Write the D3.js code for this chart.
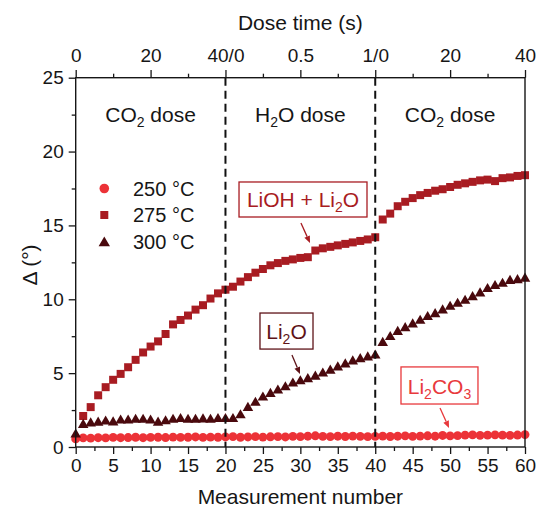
<!DOCTYPE html>
<html><head><meta charset="utf-8">
<script src="https://cdn.jsdelivr.net/npm/d3@7/dist/d3.min.js"></script>
<style>
html,body{margin:0;padding:0;background:#fff;}
svg{display:block;font-family:"Liberation Sans",Arial,sans-serif;}
</style></head>
<body>
<script>
// ---- data ----
const measurements = d3.range(0, 61);
const series250 = [0.55,0.62,0.6,0.63,0.62,0.65,0.63,0.64,0.66,0.63,0.65,0.66,0.64,0.67,0.65,0.66,0.68,0.65,0.67,0.66,0.68,0.7,0.66,0.68,0.7,0.67,0.69,0.7,0.68,0.72,0.7,0.73,0.76,0.72,0.7,0.73,0.71,0.74,0.72,0.7,0.72,0.74,0.71,0.73,0.75,0.72,0.74,0.76,0.73,0.78,0.75,0.77,0.8,0.82,0.79,0.8,0.82,0.8,0.79,0.81,0.84];
const series275x = d3.range(1, 61);
const series275 = [2.1,2.7,3.5,4.05,4.55,4.95,5.4,5.9,6.4,6.8,7.15,7.65,8.3,8.6,8.9,9.3,9.6,10.05,10.4,10.65,10.85,11.2,11.5,11.8,12.05,12.3,12.45,12.6,12.7,12.8,12.85,13.3,13.45,13.55,13.65,13.75,13.85,13.95,14.05,14.2,15.4,15.8,16.3,16.6,16.85,17.05,17.2,17.35,17.45,17.6,17.75,17.85,17.95,18.05,18.1,18.0,18.2,18.25,18.35,18.4];
const series300 = [0.9,1.55,1.65,1.7,1.78,1.72,1.85,1.85,1.9,1.9,1.85,1.7,1.8,1.9,1.95,1.9,1.9,1.92,1.9,1.95,1.95,1.95,2.2,2.7,3.05,3.4,3.65,3.88,4.1,4.35,4.5,4.65,4.82,5.03,5.22,5.44,5.65,5.85,6.0,6.12,6.25,7.1,7.5,7.85,8.1,8.35,8.6,8.85,9.05,9.3,9.55,9.75,9.95,10.2,10.45,10.75,10.95,11.1,11.3,11.35,11.45];
const seriesNames = ["250 °C","275 °C","300 °C"];
const bottomTicks = d3.range(0, 61, 5);
const topTickPos = [0,10,20,30,40,50,60];
const topTickLabels = ["0","20","40/0","0.5","1/0","20","40"];
const leftTicks = [0,5,10,15,20,25];
const doseBoundaries = [20, 40];
const doseLabels = [{m:10, main:"CO", sub:"2", rest:" dose"},{m:30, main:"H", sub:"2", rest:"O dose"},{m:50, main:"CO", sub:"2", rest:" dose"}];

// ---- layout ----
const W = 541, H = 514;
const M = {left:75.7, right:16, top:77.7, bottom:67};
const colors = {c250:"#ec3237", c275:"#a81c22", c300:"#4a090d"};
const ink = "#161616";

const svg = d3.select("body").append("svg").attr("width", W).attr("height", H);
const x = d3.scaleLinear().domain([0,60]).range([M.left, W-M.right]);
const y = d3.scaleLinear().domain([0,25]).range([H-M.bottom, M.top]);

// data marks
const g = svg.append("g");
g.selectAll("path.c250").data(measurements).enter().append("path")
  .attr("transform", (d,i)=>`translate(${x(d)},${y(series250[i])})`)
  .attr("d", d3.symbol().type(d3.symbolCircle).size(62)()).attr("fill", colors.c250);
g.selectAll("path.c275").data(series275x).enter().append("path")
  .attr("transform", (d,i)=>`translate(${x(d)},${y(series275[i])})`)
  .attr("d", d3.symbol().type(d3.symbolSquare).size(64)()).attr("fill", colors.c275);
g.selectAll("path.c300").data(measurements).enter().append("path")
  .attr("transform", (d,i)=>`translate(${x(d)},${y(series300[i])+0.8})`)
  .attr("d", d3.symbol().type(d3.symbolTriangle).size(48)()).attr("fill", colors.c300);

// dashed boundaries
svg.selectAll("line.dash").data(doseBoundaries).enter().append("line")
  .attr("x1", d=>x(d)).attr("x2", d=>x(d)).attr("y1", y(25)).attr("y2", y(0))
  .attr("stroke", "#111").attr("stroke-width", 2).attr("stroke-dasharray", "8,5");

// axes
const fs = 19;
function styleAxis(sel){
  sel.select(".domain").remove();
  sel.selectAll(".tick line").attr("stroke", ink).attr("stroke-width", 1.3);
  sel.selectAll(".tick text").attr("fill", ink).style("font-size", fs+"px").style("font-family", '"Liberation Sans",Arial,sans-serif');
}
const bottomMinor = d3.range(2.5, 60, 5);
svg.append("g").attr("transform", `translate(0,${y(0)})`)
  .call(d3.axisBottom(x).tickValues(bottomMinor).tickSize(4).tickFormat(""))
  .call(styleAxis);
svg.append("g").attr("transform", `translate(0,${y(0)})`)
  .call(d3.axisBottom(x).tickValues(bottomTicks).tickSize(7).tickPadding(5).tickFormat(d3.format("d")))
  .call(styleAxis);
svg.append("g").attr("transform", `translate(0,${y(25)})`)
  .call(d3.axisTop(x).tickValues(d3.range(5,60,10)).tickSize(4).tickFormat(""))
  .call(styleAxis);
svg.append("g").attr("transform", `translate(0,${y(25)})`)
  .call(d3.axisTop(x).tickValues(topTickPos).tickSize(7.7).tickPadding(8).tickFormat((d,i)=>topTickLabels[i]))
  .call(styleAxis);
svg.append("g").attr("transform", `translate(${x(0)},0)`)
  .call(d3.axisLeft(y).tickValues(d3.range(2.5,25,5)).tickSize(4).tickFormat(""))
  .call(styleAxis);
svg.append("g").attr("transform", `translate(${x(0)},0)`)
  .call(d3.axisLeft(y).tickValues(leftTicks).tickSize(7).tickPadding(5).tickFormat(d3.format("d")))
  .call(styleAxis);

// frame
svg.append("rect").attr("x", x(0)).attr("y", y(25)).attr("width", x(60)-x(0)).attr("height", y(0)-y(25))
  .attr("fill","none").attr("stroke", ink).attr("stroke-width", 1.4);

// titles
svg.append("text").attr("x", (x(0)+x(60))/2).attr("y", 504).attr("text-anchor","middle")
  .style("font-size","21px").attr("fill", ink).text("Measurement number");
svg.append("text").attr("x", (x(0)+x(60))/2).attr("y", 30).attr("text-anchor","middle")
  .style("font-size","21px").attr("fill", ink).text("Dose time (s)");
svg.append("text").attr("transform","translate(37,265) rotate(-90)").attr("text-anchor","middle")
  .style("font-size","21px").attr("fill", ink).text("Δ (°)");

// dose labels
doseLabels.forEach(d=>{
  const t = svg.append("text").attr("x", x(d.m)).attr("y", 122).attr("text-anchor","middle")
    .style("font-size","21px").attr("fill", ink);
  t.append("tspan").text(d.main);
  t.append("tspan").attr("dy", 5).style("font-size","14px").text(d.sub);
  t.append("tspan").attr("dy", -5).text(d.rest);
});

// legend
const legY = [188.5, 215, 242];
const legSyms = [d3.symbolCircle, d3.symbolSquare, d3.symbolTriangle];
const legSizes = [72, 64, 56];
const legCols = [colors.c250, colors.c275, colors.c300];
seriesNames.forEach((n,i)=>{
  svg.append("path").attr("transform", `translate(104.3,${legY[i] + (i===2?1:0)})`)
    .attr("d", d3.symbol().type(legSyms[i]).size(legSizes[i])()).attr("fill", legCols[i]);
  svg.append("text").attr("x", 133).attr("y", legY[i]+7).style("font-size","20px").attr("fill", ink).text(n);
});

// annotations
const annotations = [
  {parts:[["LiOH + Li",0],["2",1],["O",0]], box:[21.81,38.9,17.94,15.57], arrow:[30.08,15.16,31.29,13.81], color:colors.c275},
  {parts:[["Li",0],["2",1],["O",0]], box:[24.61,31.69,9.07,6.63], arrow:[28.88,6.23,29.95,4.94], color:"#5e1318"},
  {parts:[["Li",0],["2",1],["CO",0],["3",1]], box:[43.44,53.72,5.42,2.91], arrow:[48.65,2.64,49.85,1.29], color:"#e8393c"}
];
annotations.forEach(a=>{
  const [m1,m2,v1,v2] = a.box;
  svg.append("rect").attr("x", x(m1)).attr("y", y(v1)).attr("width", x(m2)-x(m1)).attr("height", y(v2)-y(v1))
    .attr("fill","#fff").attr("stroke", a.color).attr("stroke-width", 1.3);
  const t = svg.append("text").attr("x", (x(m1)+x(m2))/2).attr("y", y(v2)-10).attr("text-anchor","middle")
    .style("font-size","21px").attr("fill", a.color);
  let sub = false;
  a.parts.forEach(([s,isSub])=>{
    const ts = t.append("tspan").text(s);
    if(isSub && !sub){ ts.attr("dy",5).style("font-size","14px"); sub=true; }
    else if(!isSub && sub){ ts.attr("dy",-5); sub=false; }
    else if(isSub){ ts.style("font-size","14px"); }
  });
  const [am1,av1,am2,av2] = a.arrow;
  const x1=x(am1), y1=y(av1), x2=x(am2), y2=y(av2);
  const ang = Math.atan2(y2-y1, x2-x1);
  const hl = 7, hw = 3;
  const bx = x2 - hl*Math.cos(ang), by = y2 - hl*Math.sin(ang);
  svg.append("line").attr("x1",x1).attr("y1",y1).attr("x2",bx).attr("y2",by).attr("stroke",a.color).attr("stroke-width",1.3);
  const p1 = [bx + hw*Math.sin(ang), by - hw*Math.cos(ang)];
  const p2 = [bx - hw*Math.sin(ang), by + hw*Math.cos(ang)];
  svg.append("path").attr("d", `M${x2},${y2}L${p1[0]},${p1[1]}L${p2[0]},${p2[1]}Z`).attr("fill", a.color);
});
</script>
</body></html>
